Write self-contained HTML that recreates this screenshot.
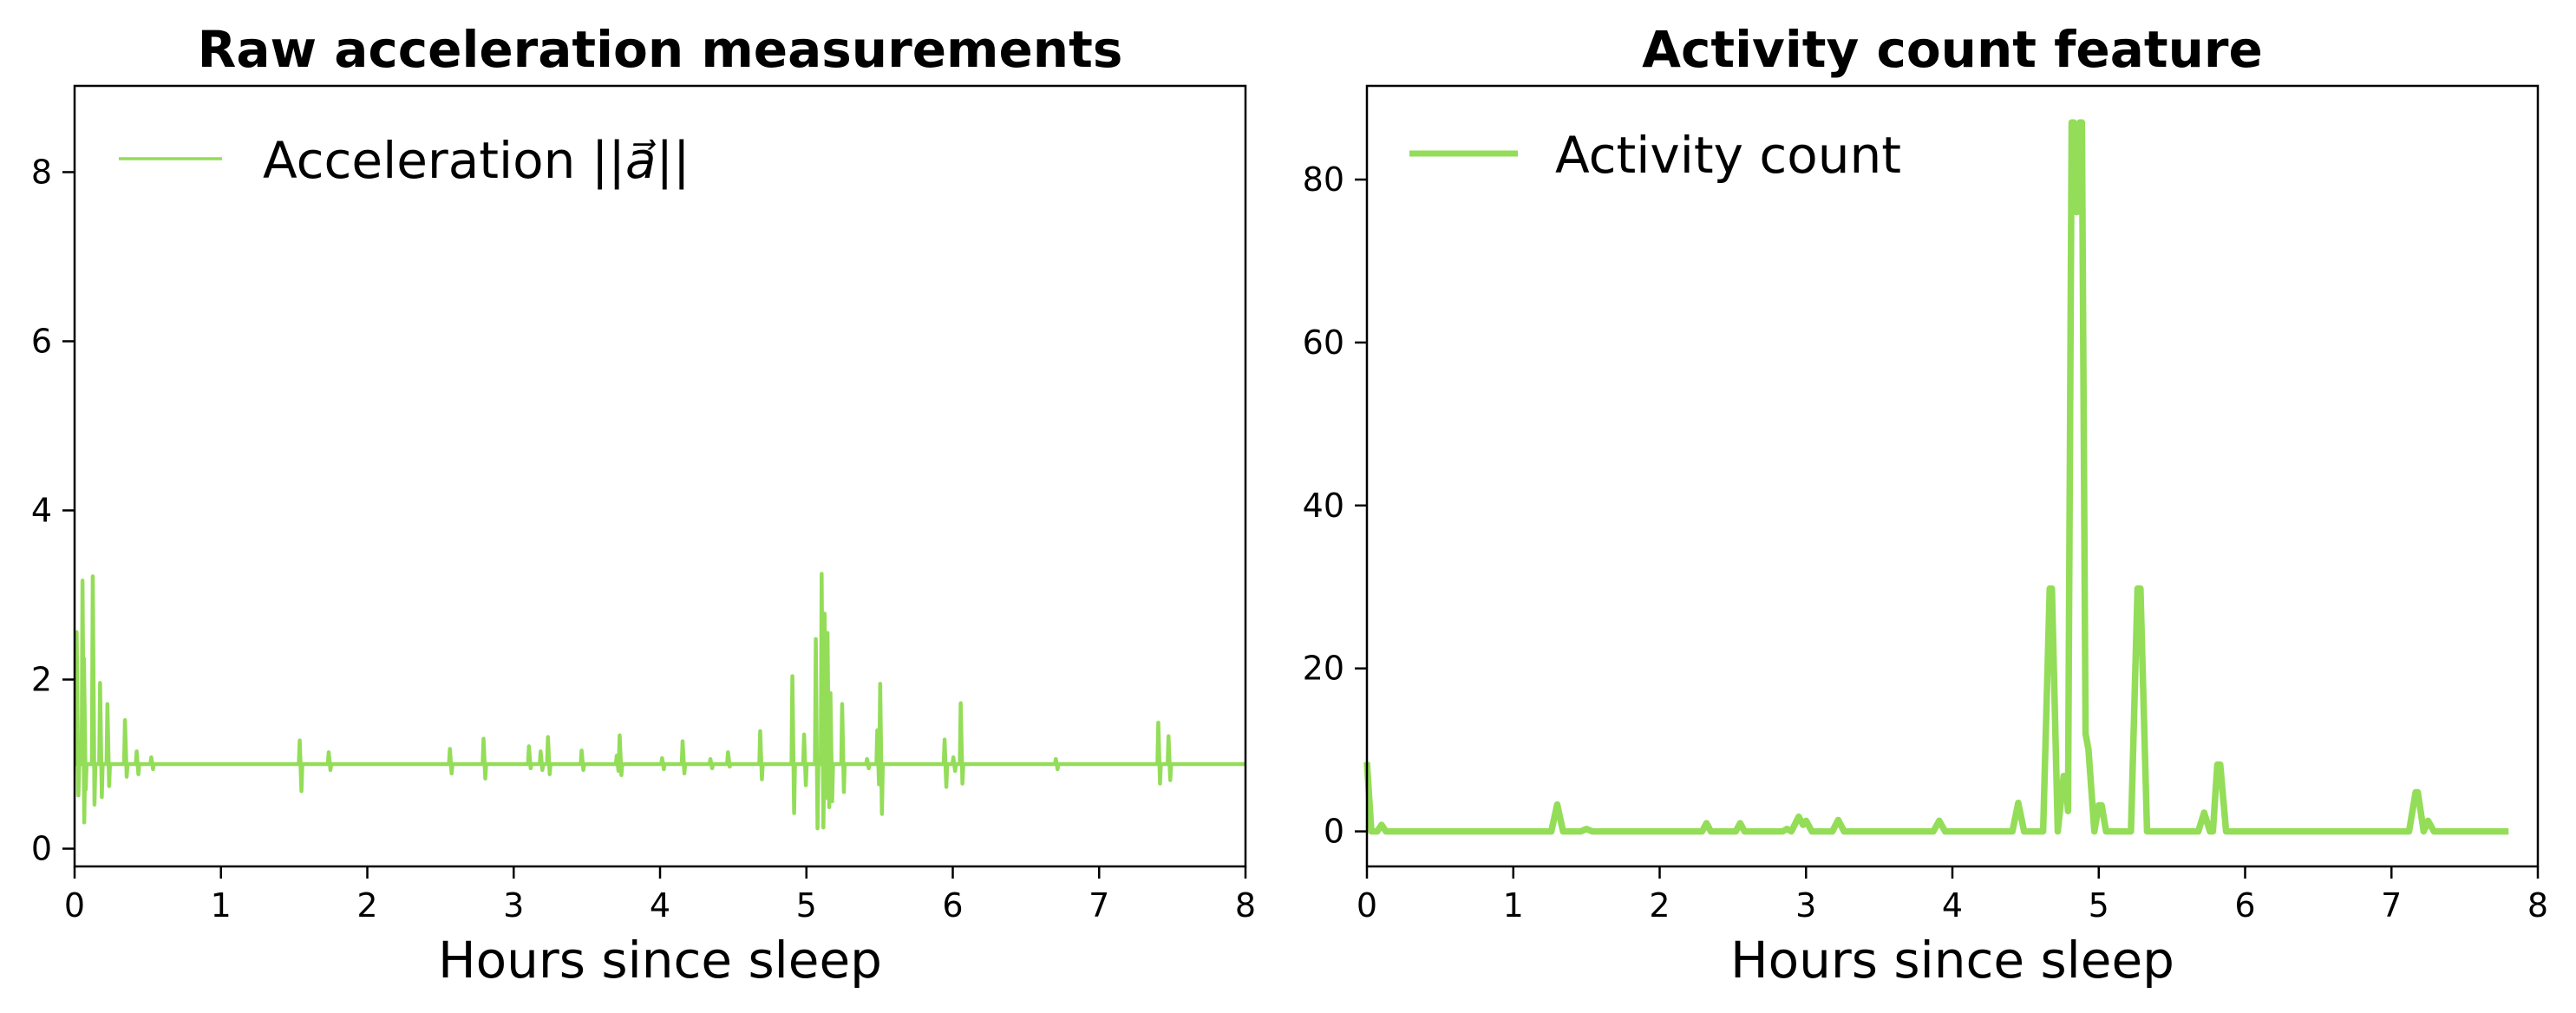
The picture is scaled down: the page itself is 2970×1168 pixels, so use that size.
<!DOCTYPE html>
<html><head><meta charset="utf-8">
<style>
html,body{margin:0;padding:0;background:#fff;}
svg{display:block;font-family:"DejaVu Sans","Liberation Sans",sans-serif;}
</style></head>
<body>
<svg id="fig" width="2970" height="1168" viewBox="0 0 2970 1168" xmlns="http://www.w3.org/2000/svg">
<rect width="2970" height="1168" fill="#fff"/>
</svg>
<script>
// ---- Left chart data: acceleration spikes ----
const accTicksX = [0,1,2,3,4,5,6,7,8];
const accTicksY = [0,2,4,6,8];
const accBaseline = 1.0;
const spikeTimes = [0.02,0.06,0.07,0.13,0.18,0.23,0.35,0.43,0.53,1.544,1.742,2.57,2.80,3.11,3.19,3.24,3.47,3.71,3.73,4.02,4.16,4.35,4.47,4.69,4.91,4.99,5.07,5.11,5.13,5.15,5.17,5.25,5.42,5.49,5.51,5.95,6.01,6.06,6.71,7.41,7.48];
const spikeHighs = [2.56,3.17,2.25,3.22,1.96,1.71,1.52,1.15,1.08,1.28,1.14,1.18,1.30,1.21,1.15,1.32,1.16,1.10,1.34,1.07,1.27,1.06,1.14,1.39,2.04,1.35,2.48,3.25,2.78,2.55,1.84,1.71,1.06,1.40,1.95,1.29,1.08,1.72,1.06,1.49,1.33];
const spikeLows  = [0.63,0.31,0.70,0.52,0.61,0.74,0.85,0.88,0.94,0.68,0.93,0.89,0.83,0.95,0.93,0.88,0.93,0.92,0.87,0.94,0.89,0.95,0.97,0.82,0.42,0.75,0.24,0.25,0.60,0.49,0.56,0.67,0.95,0.76,0.41,0.73,0.92,0.77,0.94,0.77,0.81];

// ---- Right chart data: activity count ----
const actTicksX = [0,1,2,3,4,5,6,7,8];
const actTicksY = [0,20,40,60,80];
const actTimes  = [0,0.03,0.07,0.1,0.13,1.26,1.3,1.34,1.46,1.5,1.54,2.29,2.32,2.35,2.52,2.55,2.58,2.84,2.87,2.9,2.95,2.98,3.0,3.04,3.18,3.22,3.26,3.87,3.91,3.95,4.41,4.45,4.49,4.62,4.665,4.68,4.72,4.76,4.775,4.79,4.815,4.83,4.85,4.87,4.885,4.91,4.93,4.97,5.0,5.02,5.05,5.22,5.265,5.285,5.33,5.68,5.72,5.76,5.78,5.81,5.83,5.87,7.12,7.165,7.18,7.22,7.25,7.29,7.8];
const actValues = [8.5,0,0,0.8,0,0,3.3,0,0,0.3,0,0,1,0,0,1,0,0,0.3,0,1.8,0.8,1.3,0,0,1.4,0,0,1.3,0,0,3.5,0,0,29.8,29.8,0,6.8,6.8,2.5,87,87,76,87,87,12,10,0,3.2,3.2,0,0,29.8,29.8,0,0,2.3,0,0,8.2,8.2,0,0,4.8,4.8,0,1.3,0,0];

const NS = "http://www.w3.org/2000/svg";
const svg = document.getElementById('fig');
const GREEN = "#93dd58";
function mk(tag, attrs, parent){
  const e = document.createElementNS(NS, tag);
  for (const k in attrs) e.setAttribute(k, attrs[k]);
  (parent||svg).appendChild(e);
  return e;
}
function makeAxes(cfg){
  const {x0,x1,y0,y1,xmin,xmax,ymin,ymax} = cfg;
  return {
    sx: v => x0 + (v - xmin) / (xmax - xmin) * (x1 - x0),
    sy: v => y1 - (v - ymin) / (ymax - ymin) * (y1 - y0)
  };
}
function drawFrame(cfg, ax, ticksX, ticksY, prefix){
  const g = mk('g', {});
  
  
  ticksX.forEach(t => {
    const x = ax.sx(t);
    const tk = mk('line', {x1:x, x2:x, y1:cfg.y1, y2:cfg.y1+14, stroke:'#000','stroke-width':2.5}, g);
    
    
    const lb = mk('text', {x:x, y:cfg.y1+58, 'font-size':38, 'text-anchor':'middle', fill:'#000'}, g);
    
    
    lb.textContent = t;
  });
  ticksY.forEach(t => {
    const y = ax.sy(t);
    const tk = mk('line', {x1:cfg.x0-14, x2:cfg.x0, y1:y, y2:y, stroke:'#000','stroke-width':2.5}, g);
    
    
    const lb = mk('text', {x:cfg.x0-26, y:y+13, 'font-size':38, 'text-anchor':'end', fill:'#000'}, g);
    
    
    lb.textContent = t;
  });
}
function drawBorder(cfg, prefix){
  const r = mk('rect', {x:cfg.x0, y:cfg.y0, width:cfg.x1-cfg.x0, height:cfg.y1-cfg.y0, fill:'none', stroke:'#000','stroke-width':2.5});
  
  
}

// Left panel
const L = {x0:86,x1:1436,y0:99,y1:999,xmin:0,xmax:8,ymin:-0.21,ymax:9.02};
const la = makeAxes(L);
drawFrame(L, la, accTicksX, accTicksY, 'acc');
{
  let pts = [[la.sx(0), la.sy(accBaseline)]];
  for (let i=0;i<spikeTimes.length;i++){
    const t = spikeTimes[i];
    pts.push([la.sx(t)-2, la.sy(accBaseline)]);
    pts.push([la.sx(t)-1, la.sy(spikeHighs[i])]);
    pts.push([la.sx(t)+1, la.sy(spikeLows[i])]);
    pts.push([la.sx(t)+2, la.sy(accBaseline)]);
  }
  pts.push([la.sx(8), la.sy(accBaseline)]);
  const p = mk('polyline', {points: pts.map(q=>q.join(',')).join(' '), fill:'none', stroke:GREEN, 'stroke-width':4.5, 'stroke-linejoin':'round'});
  
  
}
drawBorder(L, 'acc');

// Right panel
const R = {x0:1576,x1:2926,y0:99,y1:999,xmin:0,xmax:8,ymin:-4.3,ymax:91.5};
const ra = makeAxes(R);
drawFrame(R, ra, actTicksX, actTicksY, 'act');
{
  const pts = actTimes.map((t,i)=> ra.sx(t)+','+ra.sy(actValues[i])).join(' ');
  const p = mk('polyline', {points: pts, fill:'none', stroke:GREEN, 'stroke-width':7.5, 'stroke-linejoin':'round'});
  
  
}
drawBorder(R, 'act');
</script>
<svg style="position:absolute;left:0;top:0" width="2970" height="1168" viewBox="0 0 2970 1168" xmlns="http://www.w3.org/2000/svg">
  <text x="761" y="77" font-size="58" font-weight="bold" text-anchor="middle" font-family="DejaVu Sans, Liberation Sans, sans-serif">Raw acceleration measurements</text>
  <text x="2251" y="77" font-size="58" font-weight="bold" text-anchor="middle" font-family="DejaVu Sans, Liberation Sans, sans-serif">Activity count feature</text>
  <text x="761" y="1127" font-size="58" text-anchor="middle" font-family="DejaVu Sans, Liberation Sans, sans-serif">Hours since sleep</text>
  <text x="2251" y="1127" font-size="58" text-anchor="middle" font-family="DejaVu Sans, Liberation Sans, sans-serif">Hours since sleep</text>
  <g>
    <line x1="137" x2="256" y1="183" y2="183" stroke="#93dd58" stroke-width="3.5"/>
    <text x="303" y="205" font-size="58" font-family="DejaVu Sans, Liberation Sans, sans-serif">Acceleration ||<tspan font-style="italic">a⃗</tspan>||</text>
  </g>
  <g>
    <line x1="1625" x2="1750" y1="177" y2="177" stroke="#93dd58" stroke-width="7"/>
    <text x="1793" y="199" font-size="58" font-family="DejaVu Sans, Liberation Sans, sans-serif">Activity count</text>
  </g>
</svg>
</body></html>
